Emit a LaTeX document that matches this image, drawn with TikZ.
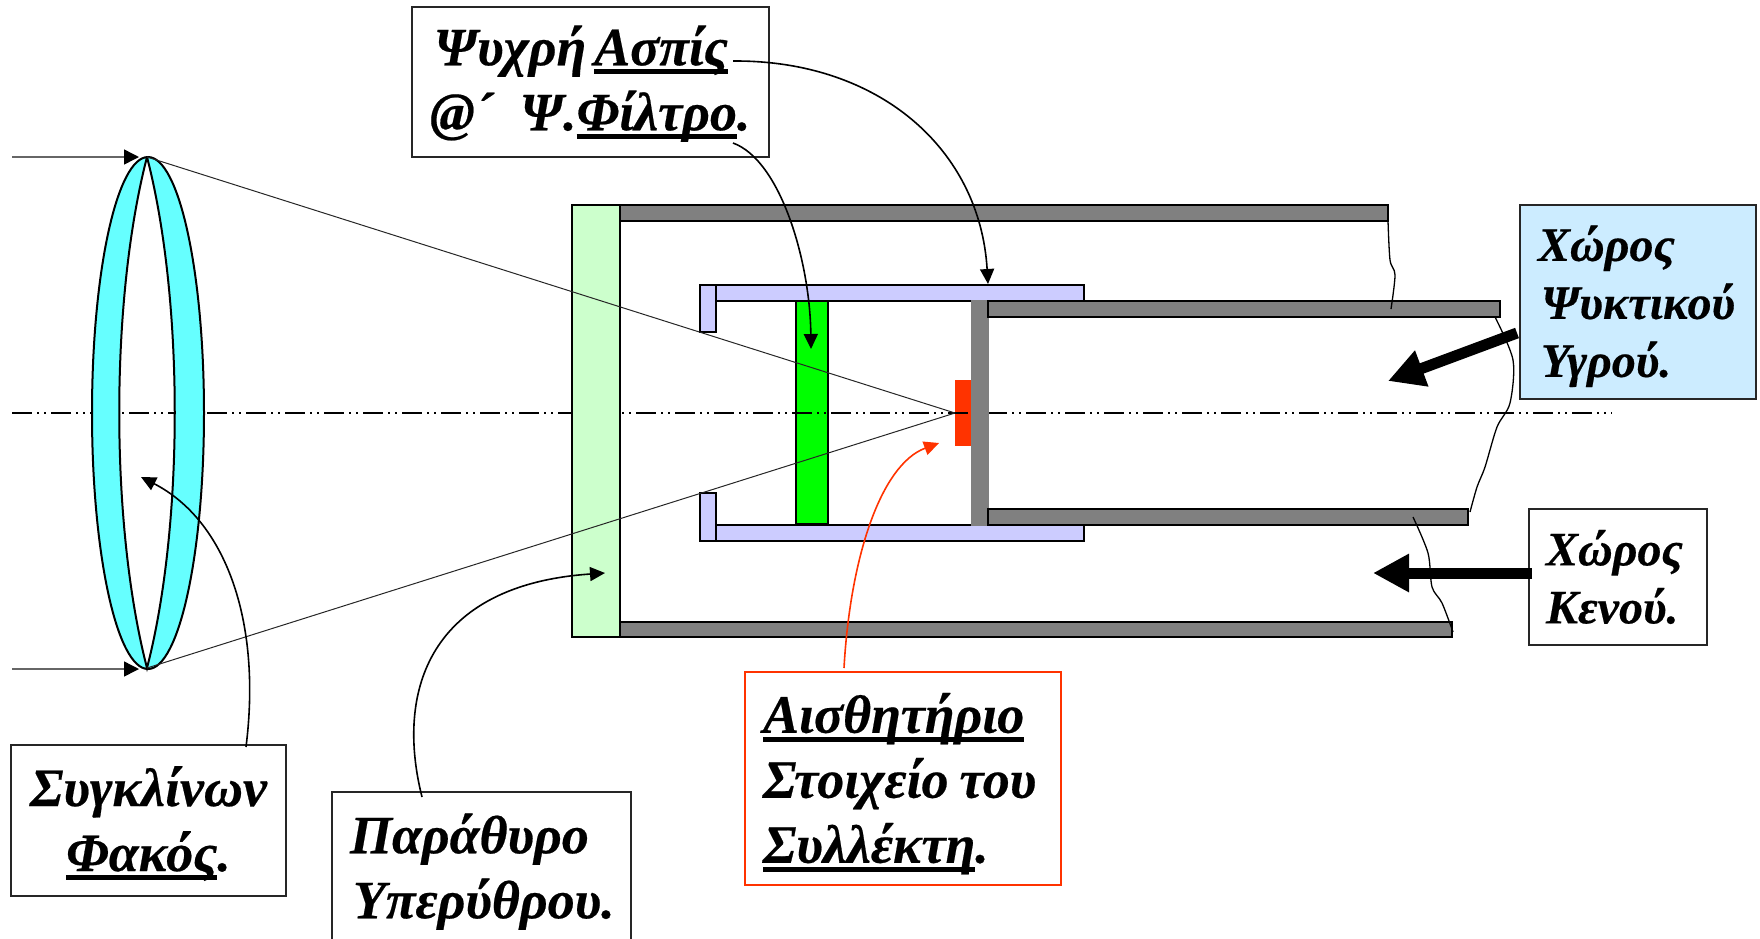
\documentclass[tikz,border=0pt]{standalone}
\usepackage{fontspec}
\setmainfont[BoldItalicFeatures={FakeBold=0.4}]{Liberation Serif}
\usepackage{tikz}
\usetikzlibrary{positioning,arrows.meta}

\newcommand{\heavyul}[1]{\leavevmode\setbox0=\hbox{#1}\rlap{\rule[-9pt]{\wd0}{5pt}}\box0{}}
\newcommand{\topgap}[1]{\rule{0pt}{#1pt}}
\newcommand{\bigtext}{\fontsize{54}{65}\selectfont\bfseries\itshape}
\newcommand{\midtext}{\fontsize{48}{58}\selectfont\bfseries\itshape}

\definecolor{lenscyan}{HTML}{66FFFF}
\definecolor{windowgreen}{HTML}{CCFFCC}
\definecolor{shieldblue}{HTML}{CCCCFF}
\definecolor{coolantblue}{HTML}{CCECFF}
\definecolor{sensorred}{HTML}{FF3300}
\definecolor{wallgray}{HTML}{808080}

\tikzset{
	part/.style={draw=black,line width=2pt},
	labelbox/.style={draw=black!85,line width=1.6pt,inner xsep=0pt,inner ysep=0pt},
	pointer/.style={line width=1.6pt,-{Triangle[length=15pt,width=14pt]}},
	fatarrow/.style={line width=11pt,-{Triangle[length=36pt,width=36pt]}},
	ray/.style={black!85,line width=1pt},
	breakline/.style={black,line width=1.3pt}
}

\begin{document}
\begin{tikzpicture}[x=1pt,y=-1pt]
	\useasboundingbox (0,0) rectangle (1760,938);

	%filter and detector sit under the axis
	\draw[part,fill=green] (796,301) rectangle (828,524);
	\fill[sensorred] (955,380) rectangle (971,446);

	%optical axis
	\draw[black,line width=2.2pt,dash pattern=on 20pt off 5pt on 2pt off 5pt on 2pt off 5pt] (12,413) -- (1612,413);

	%vacuum case
	\draw[part,fill=windowgreen] (572,205) rectangle (620,637);
	\draw[part,fill=wallgray] (620,205) rectangle (1388,221);
	\draw[part,fill=wallgray] (620,622) rectangle (1452,637);

	%cold shield
	\draw[part,fill=shieldblue] (700,285) rectangle (716,332);
	\draw[part,fill=shieldblue] (716,285) rectangle (1084,301);
	\draw[part,fill=shieldblue] (700,493) rectangle (716,541);
	\draw[part,fill=shieldblue] (716,525) rectangle (1084,541);

	%dewar tubes and back wall
	\fill[wallgray] (971,300) rectangle (989,526);
	\draw[part,fill=wallgray] (988,301) rectangle (1500,317);
	\draw[part,fill=wallgray] (988,509) rectangle (1468,525);

	%lens
	\draw[black,line width=2pt,fill=lenscyan,even odd rule]
		(148,413) ellipse (56 and 256)
		(147,157) .. controls (110,300) and (110,525) .. (147,668)
		.. controls (184,525) and (184,300) .. (147,157);

	%rays
	\coordinate (focus) at (955,413);
	\coordinate (lenstop) at (147,157);
	\coordinate (lensbottom) at (147,668);
	\coordinate (raytop) at (12,157);
	\coordinate (raybottom) at (12,669);
	\draw[ray] (lenstop) -- (focus);
	\draw[ray] (lensbottom) -- (focus);
	\draw[black!60,line width=1.5pt,-{Triangle[length=15pt,width=15pt,black]}] (raytop) -- (139,157);
	\draw[black!60,line width=1.5pt,-{Triangle[length=15pt,width=15pt,black]}] (raybottom) -- (139,669);

	%broken ends of the tubes
	\draw[breakline] plot[smooth,tension=.5] coordinates {(1388,221) (1390,260) (1395,275) (1391,309)};
	\draw[breakline] plot[smooth,tension=.5] coordinates {(1495,317) (1513,360) (1510,403) (1497,427) (1485,467) (1477,487) (1470,512)};
	\draw[breakline] plot[smooth,tension=.5] coordinates {(1413,517) (1428,553) (1432,587) (1442,603) (1453,632)};

	%labels
	\node [labelbox,minimum width=357pt,minimum height=150pt,text width=321pt,align=left,font=\bigtext] (shield) at (590.5,82)
		{\topgap{43}\mbox{\hspace*{4pt}Ψυχρή\hspace{-10pt} \heavyul{Ασπίς}}\\\mbox{@´\hspace{0.5em}Ψ.\heavyul{Φίλτρο}.}};
	\node [labelbox,fill=coolantblue,minimum width=236pt,minimum height=194pt,text width=200pt,align=left,font=\midtext] (coolant) at (1638,302)
		{\topgap{44}Χώρος\\\hspace*{3pt}Ψυκτικού\\\hspace*{3pt}Υγρού.};
	\node [labelbox,minimum width=178pt,minimum height=136pt,text width=144pt,align=left,font=\midtext] (vacuum) at (1618,577)
		{Χώρος\\Κενού.};
	\node [labelbox,minimum width=275pt,minimum height=151pt,align=center,font=\bigtext] (lens) at (148.5,820.5)
		{\topgap{46}Συγκλίνων\\\heavyul{Φακός}.};
	\node [labelbox,minimum width=299pt,minimum height=153pt,text width=263pt,align=left,font=\bigtext] (window) at (481.5,868.5)
		{\topgap{46}Παράθυρο\\\mbox{\hspace*{3pt}Υπερύθρου.}};
	\node [labelbox,draw=sensorred,minimum width=316pt,minimum height=213pt,text width=280pt,align=left,font=\bigtext] (sensor) at (903,778.5)
		{\topgap{50}\heavyul{Αισθητήριο}\\\mbox{Στοιχείο\hspace{-7pt} του}\\\heavyul{Συλλέκτη}.};

	%pointer ends
	\coordinate (shieldaspis) at (733,61);
	\coordinate (shieldfilter) at (733,143);
	\coordinate (shieldtop) at (988,284);
	\coordinate (filtertarget) at (811,349);
	\coordinate (lensout) at (246,747);
	\coordinate (lenstarget) at (141,477);
	\coordinate (windowout) at (422,797);
	\coordinate (windowtarget) at (605,573);
	\coordinate (sensorout) at (844,668);
	\coordinate (sensortarget) at (939,443);
	\coordinate (coolantout) at (1517,333);
	\coordinate (coolanttarget) at (1388,381);
	\coordinate (vacuumout) at (1532,573);
	\coordinate (vacuumtarget) at (1373,573);

	%pointers
	\draw[pointer] (shieldaspis) .. controls (880,60) and (980,150) .. (shieldtop);
	\draw[pointer] (shieldfilter) .. controls (780,160) and (810,260) .. (filtertarget);
	\draw[pointer] (lensout) .. controls (262,620) and (225,520) .. (lenstarget);
	\draw[pointer] (windowout) .. controls (395,690) and (430,585) .. (windowtarget);
	\draw[pointer,sensorred] (sensorout) .. controls (850,560) and (880,465) .. (sensortarget);
	\draw[fatarrow] (coolantout) -- (coolanttarget);
	\draw[fatarrow] (vacuumout) -- (vacuumtarget);
\end{tikzpicture}
\end{document}
